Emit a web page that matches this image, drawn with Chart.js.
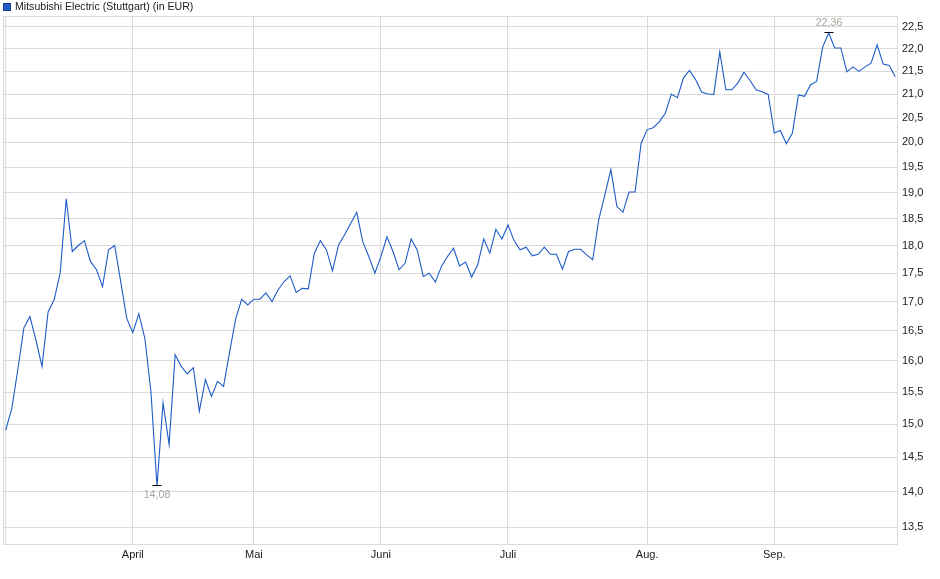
<!DOCTYPE html>
<html lang="de">
<head>
<meta charset="utf-8">
<title>Mitsubishi Electric (Stuttgart)</title>
<script src="https://cdn.jsdelivr.net/npm/chart.js@4/dist/chart.umd.min.js"></script>
<style>
  html, body { margin: 0; padding: 0; background: #fff; }
  #wrap { width: 940px; height: 579px; }
</style>
</head>
<body>
<div id="wrap"><canvas id="chart" width="940" height="579"></canvas></div>
<script>
// Daten (Schlusskurse, ein Wert pro Handelstag, Maerz bis Sep.)
const serieName = "Mitsubishi Electric (Stuttgart) (in EUR)"
const kurse = [
    14.91, 15.24, 15.86, 16.55, 16.74, 16.34, 15.91, 16.82, 17.03, 17.50,
    18.88, 17.89, 18.00, 18.09, 17.71, 17.56, 17.26, 17.92, 18.00, 17.35,
    16.71, 16.47, 16.79, 16.37, 15.50, 14.08, 15.33, 14.69, 16.10, 15.91,
    15.79, 15.89, 15.20, 15.70, 15.43, 15.67, 15.59, 16.15, 16.70, 17.04,
    16.94, 17.04, 17.04, 17.15, 17.00, 17.20, 17.35, 17.45, 17.16, 17.23,
    17.22, 17.86, 18.09, 17.92, 17.54, 18.01, 18.20, 18.41, 18.62, 18.07,
    17.80, 17.50, 17.80, 18.16, 17.89, 17.56, 17.68, 18.12, 17.92, 17.44,
    17.50, 17.34, 17.62, 17.80, 17.95, 17.63, 17.70, 17.43, 17.65, 18.12,
    17.86, 18.30, 18.12, 18.38, 18.09, 17.92, 17.97, 17.81, 17.84, 17.97,
    17.84, 17.84, 17.57, 17.89, 17.93, 17.93, 17.83, 17.74, 18.48, 18.95,
    19.45, 18.73, 18.62, 19.01, 19.01, 19.98, 20.26, 20.30, 20.42, 20.60,
    21.01, 20.93, 21.36, 21.52, 21.32, 21.05, 21.01, 21.00, 21.93, 21.10,
    21.10, 21.25, 21.48, 21.30, 21.10, 21.06, 21.00, 20.19, 20.24, 19.97,
    20.19, 20.99, 20.96, 21.21, 21.28, 22.04, 22.36, 22.02, 22.02, 21.49,
    21.60, 21.50, 21.60, 21.68, 22.09, 21.66, 21.63, 21.38
]
// erster Handelstag jedes Monats (Index in kurse)
const monatsTicks = [0, 21, 41, 62, 83, 106, 127]
const monatsNamen = ["", "April", "Mai", "Juni", "Juli", "Aug.", "Sep."]
const yTicks = [13.5, 14.0, 14.5, 15.0, 15.5, 16.0, 16.5, 17.0, 17.5, 18.0,
    18.5, 19.0, 19.5, 20.0, 20.5, 21.0, 21.5, 22.0, 22.5]

const schrift = "'Liberation Sans', Arial, sans-serif"
const linienFarbe = "#1d5bc6"
const gitterFarbe = "#dadada"
const extremFarbe = "#aaa39b"

function mitKomma(v, stellen) {
    return v.toFixed(stellen).replace(".", ",")
}

// Rahmen, Legende und Min/Max-Markierung
const extrasPlugin = {
    id: "extras",
    beforeDatasetsDraw(chart) {
        const { ctx, chartArea: a } = chart
        ctx.save()
        ctx.strokeStyle = gitterFarbe
        ctx.lineWidth = 1
        ctx.strokeRect(Math.round(a.left) + 0.5, Math.round(a.top) + 0.5,
            Math.round(a.right - a.left) - 1, Math.round(a.bottom - a.top) - 1)
        ctx.restore()
    },
    afterDatasetsDraw(chart) {
        const { ctx, scales } = chart
        const punkte = chart.data.datasets[0].data
        let iMin = 0
        let iMax = 0
        punkte.forEach((p, i) => {
            if (p.y < punkte[iMin].y) iMin = i
            if (p.y > punkte[iMax].y) iMax = i
        })
        ctx.save()
        ctx.font = "10.7px " + schrift
        ctx.textAlign = "center"
        ctx.textBaseline = "middle"
        const marke = (i, versatz) => {
            const px = Math.round(scales.x.getPixelForValue(punkte[i].x))
            const py = Math.round(scales.y.getPixelForValue(punkte[i].y)) - 0.5
            ctx.strokeStyle = "#000"
            ctx.lineWidth = 1
            ctx.beginPath()
            ctx.moveTo(px - 4.5, py)
            ctx.lineTo(px + 4.5, py)
            ctx.stroke()
            ctx.fillStyle = extremFarbe
            ctx.fillText(mitKomma(punkte[i].y, 2), px, py + versatz)
        }
        marke(iMax, -9)
        marke(iMin, 10)
        ctx.restore()
    },
    afterDraw(chart) {
        const { ctx } = chart
        ctx.save()
        ctx.fillStyle = linienFarbe
        ctx.fillRect(3, 3, 8, 8)
        ctx.strokeStyle = "#173f86"
        ctx.lineWidth = 1
        ctx.strokeRect(3.5, 3.5, 7, 7)
        ctx.fillStyle = "#222"
        ctx.font = "10.6px " + schrift
        ctx.textBaseline = "middle"
        ctx.fillText(chart.data.datasets[0].label, 15, 7)
        ctx.restore()
    }
}

const config = {
    type: "line",
    data: {
        datasets: [{
            label: serieName,
            data: kurse.map((k, i) => ({ x: i, y: k })),
            borderColor: linienFarbe,
            borderWidth: 1.1,
            pointRadius: 0,
            tension: 0,
            fill: false
        }]
    },
    options: {
        responsive: false,
        animation: false,
        events: [],
        layout: { padding: { left: 3, top: 16, right: 0, bottom: 0 } },
        plugins: {
            legend: { display: false },
            tooltip: { enabled: false }
        },
        scales: {
            x: {
                type: "linear",
                min: -0.45,
                max: 147.45,
                afterBuildTicks: (scale) => {
                    scale.ticks = monatsTicks.map(v => ({ value: v }))
                },
                afterFit: (scale) => { scale.height = 34 },
                grid: { color: gitterFarbe, drawTicks: false },
                border: { display: false },
                ticks: {
                    autoSkip: false,
                    maxRotation: 0,
                    padding: 3,
                    color: "#222",
                    font: { family: schrift, size: 11 },
                    callback: (v) => monatsNamen[monatsTicks.indexOf(v)]
                }
            },
            y: {
                type: "logarithmic",
                position: "right",
                min: 13.26,
                max: 22.75,
                afterBuildTicks: (scale) => {
                    scale.ticks = yTicks.map(v => ({ value: v }))
                },
                afterFit: (scale) => { scale.width = 42 },
                grid: { color: gitterFarbe, drawTicks: false },
                border: { display: false },
                ticks: {
                    padding: 4,
                    color: "#222",
                    font: { family: schrift, size: 11 },
                    callback: (v) => mitKomma(v, 1)
                }
            }
        }
    },
    plugins: [extrasPlugin]
}

const chartDOM = document.querySelector("#chart").getContext("2d")
const myChart = new Chart(chartDOM, config)
</script>
</body>
</html>
